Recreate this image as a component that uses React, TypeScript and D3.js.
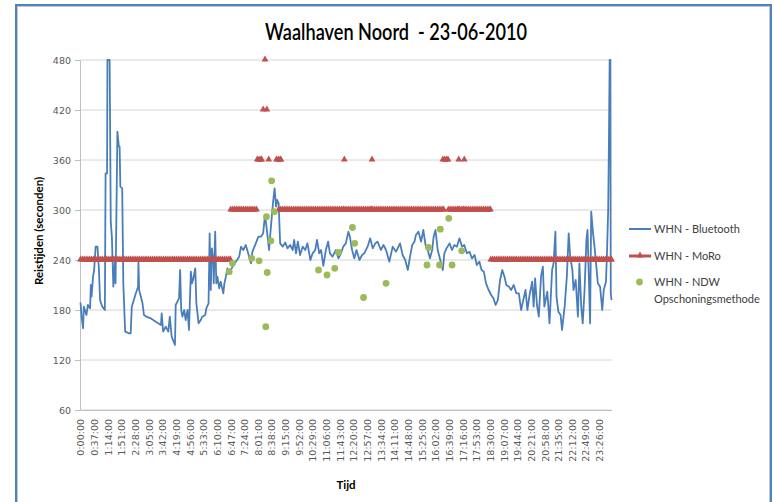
import React, { useRef, useEffect } from "react";
import * as d3 from "d3";

// x tick labels (every 37 minutes)
const tickLabels = [
  "0:00:00", "0:37:00", "1:14:00", "1:51:00", "2:28:00", "3:05:00", "3:42:00", "4:19:00",
  "4:56:00", "5:33:00", "6:10:00", "6:47:00", "7:24:00", "8:01:00", "8:38:00", "9:15:00",
  "9:52:00", "10:29:00", "11:06:00", "11:43:00", "12:20:00", "12:57:00", "13:34:00", "14:11:00",
  "14:48:00", "15:25:00", "16:02:00", "16:39:00", "17:16:00", "17:53:00", "18:30:00", "19:07:00",
  "19:44:00", "20:21:00", "20:58:00", "21:35:00", "22:12:00", "22:49:00", "23:26:00",
];
const yTicks = [60, 120, 180, 240, 300, 360, 420, 480];

// WHN - Bluetooth: [minute of day, travel time in s]
const bluetooth: [number, number][] = [
  [0, 189], [3, 172], [7, 158], [9, 184], [16, 174], [20, 186], [26, 182], [28, 210], [30, 196], [34, 220],
  [37, 228], [41, 256], [46, 256], [50, 228], [53, 192], [59, 184], [66, 180], [68, 344], [72, 344], [73, 480],
  [79, 480], [82, 286], [85, 268], [89, 208], [94, 244], [95, 212], [100, 394], [104, 376], [106, 376], [108, 328],
  [113, 326], [116, 212], [121, 154], [132, 152], [136, 152], [139, 184], [150, 200], [156, 208], [157, 238], [159, 204],
  [168, 188], [172, 174], [179, 172], [190, 170], [204, 166], [218, 162], [220, 176], [224, 154], [231, 160], [238, 154],
  [242, 172], [247, 148], [256, 138], [258, 186], [267, 194], [270, 228], [273, 180], [276, 172], [281, 180], [285, 168],
  [290, 180], [294, 156], [299, 226], [302, 212], [305, 216], [311, 230], [314, 188], [320, 164], [326, 168], [330, 172],
  [338, 174], [341, 182], [347, 188], [350, 272], [353, 204], [356, 254], [360, 236], [361, 212], [365, 274], [368, 212],
  [371, 220], [376, 206], [380, 214], [387, 200], [390, 212], [394, 220], [398, 230], [403, 224], [412, 232], [421, 238],
  [430, 244], [435, 256], [441, 252], [448, 258], [457, 244], [462, 236], [466, 250], [475, 260], [482, 268], [489, 268],
  [495, 272], [500, 294], [504, 280], [510, 256], [511, 252], [516, 280], [522, 310], [526, 326], [530, 304], [533, 312],
  [537, 308], [541, 260], [548, 256], [555, 261], [561, 254], [568, 258], [575, 252], [579, 264], [584, 248], [589, 262],
  [595, 246], [602, 256], [609, 252], [615, 260], [623, 240], [629, 248], [636, 252], [641, 264], [647, 248], [652, 252],
  [658, 233], [665, 252], [671, 262], [676, 248], [683, 244], [692, 252], [699, 242], [706, 248], [712, 256], [719, 260],
  [726, 274], [730, 268], [736, 252], [742, 242], [748, 252], [756, 240], [763, 246], [769, 248], [778, 256], [785, 266],
  [792, 254], [799, 260], [805, 262], [814, 252], [821, 258], [828, 252], [837, 238], [846, 256], [855, 250], [866, 260],
  [873, 246], [880, 240], [887, 228], [893, 244], [899, 258], [905, 262], [909, 270], [916, 274], [923, 262], [929, 276],
  [935, 258], [941, 252], [947, 242], [953, 252], [957, 268], [962, 276], [968, 252], [975, 240], [982, 228], [986, 248],
  [992, 254], [1000, 260], [1007, 252], [1013, 258], [1020, 256], [1027, 266], [1034, 256], [1040, 258], [1047, 248], [1054, 250],
  [1061, 242], [1068, 246], [1074, 234], [1081, 238], [1087, 228], [1093, 226], [1099, 212], [1106, 204], [1113, 198], [1119, 194],
  [1125, 186], [1131, 192], [1137, 216], [1143, 228], [1149, 220], [1154, 210], [1161, 208], [1167, 204], [1174, 210], [1181, 200],
  [1188, 200], [1194, 180], [1201, 194], [1206, 204], [1211, 180], [1217, 198], [1224, 214], [1228, 184], [1232, 218], [1237, 186],
  [1242, 172], [1248, 220], [1253, 232], [1257, 184], [1265, 202], [1271, 164], [1278, 228], [1282, 236], [1287, 274], [1290, 196],
  [1295, 178], [1301, 174], [1305, 156], [1312, 184], [1318, 220], [1323, 272], [1327, 244], [1333, 228], [1336, 204], [1342, 216],
  [1348, 172], [1352, 236], [1357, 184], [1361, 164], [1366, 204], [1371, 264], [1374, 276], [1378, 212], [1381, 164], [1384, 298],
  [1389, 272], [1393, 256], [1398, 232], [1402, 212], [1408, 208], [1414, 180], [1418, 204], [1424, 214], [1427, 252], [1430, 300],
  [1432, 380], [1434, 480], [1436, 480], [1437, 200], [1439, 192],
];

// WHN - MoRo: runs of constant value [start minute, end minute, value]
const moroRuns: [number, number, number][] = [
  [0, 406, 240], [407, 477, 300], [479, 491, 360], [495, 495, 420], [500, 500, 480], [505, 505, 420],
  [510, 510, 360], [531, 543, 360], [537, 713, 300], [715, 715, 360], [717, 788, 300], [790, 790, 360],
  [792, 984, 300], [982, 996, 360], [997, 1023, 300], [1025, 1025, 360], [1027, 1038, 300], [1040, 1040, 360],
  [1042, 1111, 300], [1112, 1439, 240],
];

// WHN - NDW Opschoningsmethode: [minute, value]
const ndw: [number, number][] = [
  [403, 226], [412, 236], [464, 242], [484, 239], [506, 225], [502, 160], [518, 335], [504, 292], [525, 298],
  [516, 263], [645, 228], [668, 222], [689, 230], [699, 249], [737, 279], [743, 260], [767, 195], [828, 212],
  [943, 255], [939, 234], [973, 234], [975, 277], [998, 290], [1007, 234], [1033, 251],
];

const BLUE = "#4a7ebb";
const RED = "#c0504d";
const GREEN = "#9bbb59";
const TICK_FONT = "DejaVu Sans, sans-serif";
const LABEL_FONT = "Lato, sans-serif";

const toMinutes = (s: string) => {
  const [h, m] = s.split(":").map(Number);
  return h * 60 + m;
};

const App = () => {
  const xAxisRef = useRef<SVGGElement>(null);
  const yAxisRef = useRef<SVGGElement>(null);

  const x = d3.scaleLinear().domain([0, 1439]).range([80.5, 611.5]);
  const y = d3.scaleLinear().domain([60, 480]).range([410, 60]);

  useEffect(() => {
    const yAxis = d3.axisLeft(y).tickValues(yTicks).tickSize(5).tickPadding(4).tickSizeOuter(0);
    const gy = d3.select(yAxisRef.current).call(yAxis as any);
    gy.select(".domain").attr("stroke", "#bfbfbf");
    gy.selectAll(".tick line").attr("stroke", "#bfbfbf");
    gy.selectAll(".tick text").attr("fill", "#595959").style("font-family", TICK_FONT).style("font-size", "9.5px");

    const xAxis = d3
      .axisBottom(x)
      .tickValues(tickLabels.map(toMinutes))
      .tickFormat((d, i) => tickLabels[i])
      .tickSize(0)
      .tickSizeOuter(0);
    const gx = d3.select(xAxisRef.current).call(xAxis as any);
    gx.select(".domain").attr("stroke", "#bfbfbf");
    gx.selectAll(".tick text")
      .attr("transform", "rotate(-90)")
      .attr("x", -9)
      .attr("y", 0)
      .attr("dy", "0.35em")
      .attr("text-anchor", "end")
      .attr("fill", "#595959")
      .style("font-family", TICK_FONT)
      .style("font-size", "9.5px");
  }, []);

  const btLine = d3
    .line<[number, number]>()
    .x((d) => x(d[0]))
    .y((d) => y(d[1]));

  const tri = d3.symbol().type(d3.symbolTriangle).size(20)();

  // marker positions along each MoRo run, every 5 minutes
  const moroMarkers: [number, number][] = [];
  moroRuns.forEach(([s, e, v]) => {
    for (let m = s; m <= e; m += 5) moroMarkers.push([m, v]);
    if ((e - s) % 5 !== 0) moroMarkers.push([e, v]);
  });

  return (
    <svg width={774} height={502} style={{ position: "absolute", left: 0, top: 0, background: "#fff" }}>
      <rect x={16} y={5} width={755} height={500} fill="#fff" stroke="#4f81bd" strokeWidth={2} />
      <rect x={17.5} y={6.5} width={752} height={497} fill="none" stroke="#c8c8c8" strokeWidth={1} />

      <text
        x={396}
        y={40}
        textAnchor="middle"
        textLength={262}
        lengthAdjust="spacingAndGlyphs"
        style={{ fontFamily: LABEL_FONT, fontSize: "23px", fontWeight: 600 }}
        fill="#000"
      >
        {"Waalhaven Noord\u00a0 - 23-06-2010"}
      </text>

      {yTicks.map((t) => (
        <line key={t} x1={80} x2={611.5} y1={y(t)} y2={y(t)} stroke="#d4d4d4" strokeWidth={1} />
      ))}

      <g ref={yAxisRef} transform="translate(80,0)" />
      <g ref={xAxisRef} transform="translate(0,410)" />

      <path d={btLine(bluetooth) || ""} fill="none" stroke={BLUE} strokeWidth={1.8} strokeLinejoin="round" />

      {moroRuns
        .filter(([s, e]) => e > s)
        .map(([s, e, v], i) => (
          <line key={i} x1={x(s)} x2={x(e)} y1={y(v)} y2={y(v)} stroke={RED} strokeWidth={3.5} />
        ))}
      {moroMarkers.map(([m, v], i) => (
        <path key={i} d={tri || ""} transform={`translate(${x(m)},${y(v) - 0.5})`} fill={RED} />
      ))}

      {ndw.map(([m, v], i) => (
        <circle key={i} cx={x(m)} cy={y(v)} r={3.4} fill={GREEN} />
      ))}

      <text
        transform="translate(43,231) rotate(-90)"
        textAnchor="middle"
        style={{ fontFamily: LABEL_FONT, fontSize: "11.5px", fontWeight: 700 }}
      >
        Reistijden (seconden)
      </text>
      <text x={346} y={489} textAnchor="middle" style={{ fontFamily: LABEL_FONT, fontSize: "11.5px", fontWeight: 700 }}>
        Tijd
      </text>

      <g style={{ fontFamily: LABEL_FONT, fontSize: "11px" }} fill="#404040">
        <line x1={629} x2={651} y1={229} y2={229} stroke={BLUE} strokeWidth={2} />
        <text x={654} y={229} dy="0.35em">WHN - Bluetooth</text>
        <line x1={629} x2={651} y1={256} y2={256} stroke={RED} strokeWidth={3} />
        <path d={tri || ""} transform="translate(640,255.5)" fill={RED} />
        <text x={654} y={256} dy="0.35em">WHN - MoRo</text>
        <circle cx={639.5} cy={282} r={3.4} fill={GREEN} />
        <text x={654} y={282} dy="0.35em">WHN - NDW</text>
        <text x={654} y={299} dy="0.35em">Opschoningsmethode</text>
      </g>
    </svg>
  );
};

export default App;
